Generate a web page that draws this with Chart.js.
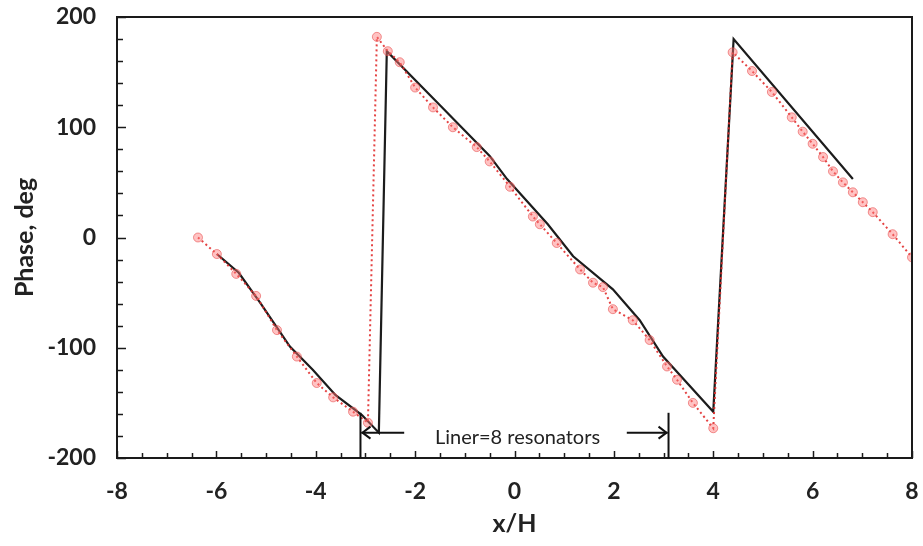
<!DOCTYPE html>
<html>
<head>
<meta charset="utf-8">
<script src="https://cdn.jsdelivr.net/npm/chart.js@4.4.1/dist/chart.umd.min.js"></script>
<style>
  html, body { margin: 0; padding: 0; background: #ffffff; }
  #wrap { width: 923px; height: 546px; position: relative; }
</style>
</head>
<body>
<div id="wrap"><canvas id="c" width="923" height="546"></canvas></div>
<script>
// ---- data ----
const measuredX = [-6.37, -5.99, -5.6, -5.2, -4.78, -4.38, -3.98, -3.65, -3.25, -2.95,
  -2.77, -2.55, -2.31, -2.0, -1.64, -1.24, -0.76, -0.5, -0.09, 0.37, 0.51, 0.85, 1.32, 1.58, 1.78,
  1.98, 2.38, 2.72, 3.07, 3.27, 3.59, 4.0,
  4.39, 4.78, 5.18, 5.58, 5.8, 6.0, 6.21, 6.41, 6.61, 6.81, 7.01, 7.21, 7.61, 8.0];
const measuredY = [0, -15, -33, -53, -84, -108, -132, -145, -158, -168,
  182, 169, 159, 136, 118, 100, 82, 69, 46, 19, 12, -5, -29, -41, -45,
  -65, -75, -93, -117, -129, -150, -173,
  168, 151, 132, 109, 96, 85, 73, 60, 50, 41, 32, 23, 3, -18];

const predictedX = [-5.99, -5.55, -5.12, -4.52, -4.06, -3.6, -3.07, -2.73,
  -2.57, -1.5, -0.5, -0.15, 0.67, 1.18, 1.98, 2.52, 2.99, 4.0,
  4.41, 6.81];
const predictedY = [-15, -32, -59, -99, -120, -143, -161, -177,
  169, 120, 74, 53, 12, -17, -47, -75, -108, -158,
  180, 53];

const xTickValues = [-8, -6, -4, -2, 0, 2, 4, 6, 8];
const yTickValues = [-200, -100, 0, 100, 200];
const linerEdges = [-3.1, 3.1];
const linerLabel = 'Liner=8 resonators';

// ---- chart ----
const toPts = (xs, ys) => xs.map((x, i) => ({ x: x, y: ys[i] }));

const framePlugin = {
  id: 'frame',
  afterDraw(chart) {
    const { ctx, chartArea: a, scales: { x, y } } = chart;
    ctx.save();
    ctx.strokeStyle = '#1a1a1a';
    ctx.lineWidth = 2;
    ctx.strokeRect(a.left, a.top, a.right - a.left, a.bottom - a.top);
    ctx.lineWidth = 1.5;
    // inward ticks on x
    for (let v = -8; v <= 8.001; v += 0.5) {
      const px = Math.round(x.getPixelForValue(v)) + 0.5;
      const major = Math.abs(v / 2 - Math.round(v / 2)) < 1e-6;
      const len = major ? 7 : 5;
      ctx.beginPath(); ctx.moveTo(px, a.bottom); ctx.lineTo(px, a.bottom - len); ctx.stroke();
    }
    // inward ticks on y
    for (let v = -200; v <= 200; v += 20) {
      const py = Math.round(y.getPixelForValue(v)) + 0.5;
      const major = v % 100 === 0;
      const len = major ? 9 : 6;
      ctx.beginPath(); ctx.moveTo(a.left, py); ctx.lineTo(a.left + len, py); ctx.stroke();
    }
    // liner annotation
    ctx.strokeStyle = '#111';
    ctx.lineWidth = 2;
    const xl = x.getPixelForValue(linerEdges[0]);
    const xr = x.getPixelForValue(linerEdges[1]);
    const yTop = y.getPixelForValue(-159);
    const yArr = y.getPixelForValue(-177);
    [xl, xr].forEach(px => {
      ctx.beginPath(); ctx.moveTo(px, yTop); ctx.lineTo(px, a.bottom); ctx.stroke();
    });
    const xlEnd = x.getPixelForValue(-2.22);
    const xrStart = x.getPixelForValue(2.26);
    ctx.beginPath(); ctx.moveTo(xlEnd, yArr); ctx.lineTo(xl + 1, yArr); ctx.stroke();
    ctx.beginPath(); ctx.moveTo(xl + 10, yArr - 6); ctx.lineTo(xl + 2, yArr); ctx.lineTo(xl + 10, yArr + 6); ctx.stroke();
    ctx.beginPath(); ctx.moveTo(xrStart, yArr); ctx.lineTo(xr - 1, yArr); ctx.stroke();
    ctx.beginPath(); ctx.moveTo(xr - 10, yArr - 6); ctx.lineTo(xr - 2, yArr); ctx.lineTo(xr - 10, yArr + 6); ctx.stroke();
    ctx.fillStyle = '#222';
    ctx.font = '20px Lato, "Open Sans", sans-serif';
    ctx.textAlign = 'center';
    ctx.textBaseline = 'middle';
    ctx.fillText(linerLabel, x.getPixelForValue(0.06), y.getPixelForValue(-181));
    ctx.restore();
  }
};

const tickFont = { family: 'Lato, "Open Sans", sans-serif', size: 23, weight: 'bold' };
const titleFont = { family: 'Lato, "Open Sans", sans-serif', size: 25, weight: 'bold' };
const hiddenTicks = (len) => ({ display: true, drawOnChartArea: false, drawTicks: true, tickLength: len, color: 'rgba(0,0,0,0)' });

new Chart(document.getElementById('c'), {
  type: 'scatter',
  data: {
    datasets: [
      {
        label: 'predicted',
        data: toPts(predictedX, predictedY),
        showLine: true,
        borderColor: '#1c1c1c',
        borderWidth: 2.2,
        pointRadius: 0,
        tension: 0,
        order: 2
      },
      {
        label: 'measured',
        data: toPts(measuredX, measuredY),
        showLine: true,
        borderColor: 'rgba(225,45,45,0.9)',
        borderWidth: 2,
        borderDash: [2, 3],
        pointRadius: 4.5,
        pointBackgroundColor: 'rgba(255,120,120,0.45)',
        pointBorderColor: 'rgba(230,70,70,0.55)',
        pointBorderWidth: 1,
        tension: 0,
        order: 1
      }
    ]
  },
  options: {
    responsive: false,
    animation: false,
    events: [],
    layout: { autoPadding: false, padding: { top: 17, right: 11, left: 0, bottom: 0 } },
    plugins: { legend: { display: false }, tooltip: { enabled: false } },
    scales: {
      x: {
        type: 'linear',
        min: -8, max: 8,
        afterBuildTicks(s) { s.ticks = xTickValues.map(v => ({ value: v })); },
        afterFit(s) { s.height = 88; },
        grid: hiddenTicks(20),
        border: { display: false },
        ticks: { font: tickFont, color: '#222', padding: 0, maxRotation: 0 },
        title: { display: true, text: 'x/H', font: titleFont, color: '#222', padding: { top: 0, bottom: 7 } }
      },
      y: {
        type: 'linear',
        min: -200, max: 200,
        afterBuildTicks(s) { s.ticks = yTickValues.map(v => ({ value: v })); },
        afterFit(s) { s.width = 117; },
        grid: hiddenTicks(21),
        border: { display: false },
        ticks: { font: tickFont, color: '#222', padding: 0 },
        title: { display: true, text: 'Phase, deg', font: titleFont, color: '#222', padding: { top: 10, bottom: 0 } }
      }
    }
  },
  plugins: [framePlugin]
});
</script>
</body>
</html>
